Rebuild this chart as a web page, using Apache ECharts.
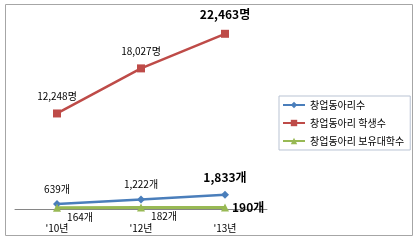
<!DOCTYPE html>
<html><head><meta charset="utf-8">
<script src="https://cdn.jsdelivr.net/npm/echarts@6/dist/echarts.min.js"></script>
<style>html,body{margin:0;padding:0;background:#fff}#c{width:419px;height:242px}</style>
</head><body><div id="c"></div>
<script>
const categories = ["'10년", "'12년", "'13년"];
const clubs = [639, 1222, 1833];
const students = [12248, 18027, 22463];
const universities = [164, 182, 190];
const seriesNames = ['창업동아리수', '창업동아리 학생수', '창업동아리 보유대학수'];

const font = '"Noto Sans CJK KR", "Noto Sans", sans-serif';
const fmt = v => v.toLocaleString('en-US');
function mk(vals, unit, last) {
  return vals.map((v, i) => {
    const o = { value: v };
    if (i === vals.length - 1) o.label = Object.assign({ fontWeight: 'bold', fontSize: 12 }, last || {});
    return o;
  });
}
const chart = echarts.init(document.getElementById('c'));
chart.setOption({
  animation: false,
  textStyle: { fontFamily: font },
  graphic: [{ type: 'rect', shape: { x: 5.5, y: 4.5, width: 407, height: 231 }, style: { fill: 'none', stroke: '#a6a6a6', lineWidth: 1 } }],
  grid: { left: 15, width: 252, top: 14, height: 195 },
  xAxis: {
    type: 'category', data: categories, boundaryGap: true,
    axisLine: { lineStyle: { color: '#868686' } },
    axisTick: { show: false },
    axisLabel: { color: '#000', fontSize: 10, margin: 14, fontFamily: font }
  },
  yAxis: { type: 'value', min: 0, max: 25000, show: false, splitLine: { show: false } },
  legend: {
    orient: 'vertical', left: 279, top: 96, padding: [4, 6, 4, 3],
    borderColor: '#b9c3d3', borderWidth: 1,
    itemWidth: 22, itemHeight: 8, itemGap: 8,
    textStyle: { fontSize: 10, color: '#000', fontFamily: font },
    data: seriesNames
  },
  series: [
    {
      name: seriesNames[0], type: 'line', data: mk(clubs, '개', { distance: 7 }),
      symbol: 'diamond', symbolSize: 8, color: '#4a7ebb',
      lineStyle: { width: 2.5, color: '#4a7ebb' },
      label: { show: true, position: 'top', distance: 6, fontSize: 10, color: '#000', formatter: p => fmt(p.value) + '개' }
    },
    {
      name: seriesNames[1], type: 'line', data: mk(students, '명', { distance: 9 }),
      symbol: 'rect', symbolSize: 8, color: '#be4b48',
      lineStyle: { width: 2.5, color: '#be4b48' },
      label: { show: true, position: 'top', distance: 8, fontSize: 10, color: '#000', formatter: p => fmt(p.value) + '명' }
    },
    {
      name: seriesNames[2], type: 'line', data: mk(universities, '개', { position: 'right', offset: [0, 0], distance: 3 }),
      symbol: 'triangle', symbolSize: 8, color: '#98b954',
      lineStyle: { width: 3, color: '#98b954' },
      label: { show: true, position: 'bottom', offset: [23, -2], distance: 2, fontSize: 10, color: '#000', formatter: p => fmt(p.value) + '개' }
    }
  ]
});
</script></body></html>
